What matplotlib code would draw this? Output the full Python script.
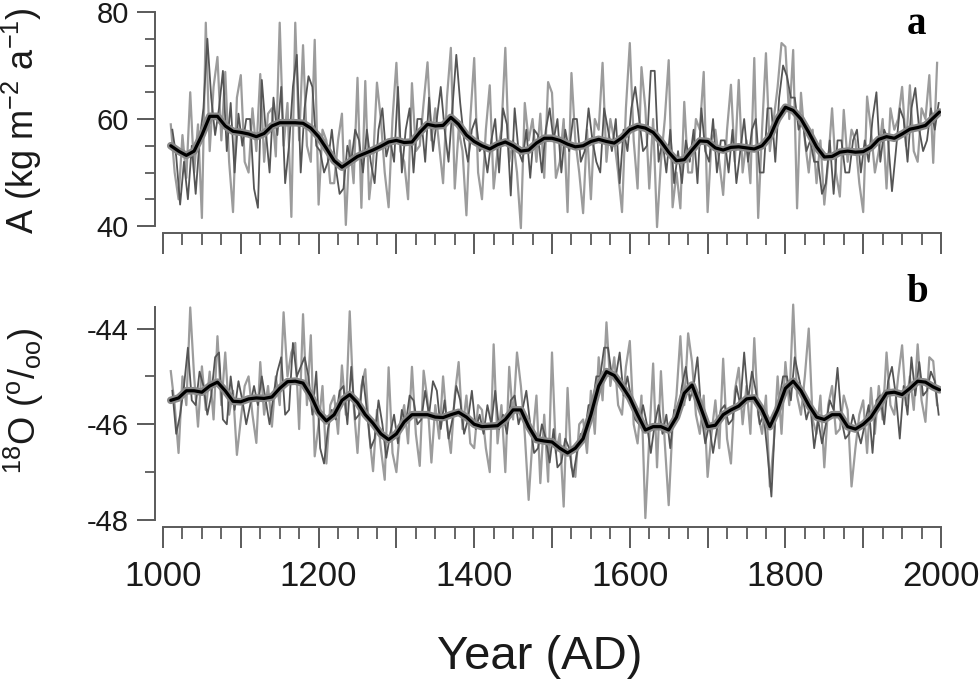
import numpy as np
import matplotlib
matplotlib.use("Agg")
import matplotlib.pyplot as plt
from matplotlib.ticker import MultipleLocator, FuncFormatter

plt.rcParams["font.family"] = ["Liberation Sans", "DejaVu Sans"]
plt.rcParams["mathtext.fontset"] = "custom"
plt.rcParams["mathtext.rm"] = "Liberation Sans"
plt.rcParams["mathtext.default"] = "regular"
plt.rcParams["axes.unicode_minus"] = False

# --- data -----------------------------------------------------------------
# smoothed curves, every 10 years (last point 1998)
smooth_years = [1010 + 10 * i for i in range(99)] + [1998]

smooth_a = [
    55.0, 54.0, 53.2, 54.0, 57.0, 60.5, 60.5, 58.7, 57.7, 57.5,
    57.2, 56.7, 57.3, 58.7, 59.3, 59.3, 59.3, 59.2, 58.3, 56.7,
    54.5, 52.2, 51.0, 52.0, 53.0, 53.6, 54.2, 54.9, 55.7, 56.0,
    55.6, 55.7, 57.5, 59.0, 58.7, 58.8, 60.3, 59.0, 57.0, 55.8,
    55.0, 54.4, 55.2, 55.7, 55.0, 54.0, 54.2, 55.5, 56.4, 56.4,
    56.0, 55.3, 54.8, 55.0, 55.8, 56.2, 55.8, 55.5, 56.5, 58.0,
    58.6, 58.3, 57.5, 55.8, 53.8, 52.2, 52.4, 54.2, 55.9, 55.8,
    54.6, 54.2, 54.7, 54.8, 54.6, 54.4, 55.0, 56.7, 60.0, 62.2,
    61.6, 60.0, 57.5, 54.8, 52.9, 53.0, 53.8, 54.0, 53.8, 53.9,
    54.7, 56.2, 56.7, 56.4, 57.2, 58.1, 58.4, 58.8, 60.2, 61.3,
]

smooth_b = [
    -45.50, -45.45, -45.30, -45.30, -45.33, -45.20, -45.12, -45.30, -45.52, -45.53,
    -45.47, -45.45, -45.46, -45.43, -45.25, -45.11, -45.10, -45.14, -45.40, -45.75,
    -45.93, -45.80, -45.50, -45.38, -45.55, -45.80, -45.98, -46.20, -46.32, -46.20,
    -45.95, -45.80, -45.80, -45.80, -45.85, -45.86, -45.80, -45.75, -45.85, -46.00,
    -46.05, -46.04, -46.03, -45.90, -45.70, -45.70, -46.05, -46.32, -46.35, -46.37,
    -46.50, -46.60, -46.50, -46.30, -45.80, -45.20, -44.90, -44.98, -45.20, -45.45,
    -45.80, -46.12, -46.05, -46.05, -46.12, -45.85, -45.35, -45.18, -45.60, -46.05,
    -46.02, -45.80, -45.70, -45.62, -45.47, -45.45, -45.70, -46.05, -45.70, -45.25,
    -45.10, -45.30, -45.60, -45.85, -45.90, -45.80, -45.80, -46.05, -46.10, -46.00,
    -45.85, -45.60, -45.35, -45.33, -45.38, -45.25, -45.10, -45.12, -45.22, -45.28,
]

# annual records (read at ~5 year spacing): light grey and dark grey traces
light_years = [1010 + 5 * i for i in range(198)]
dark_years = [1012 + 5 * i for i in range(198)]

a_light = [
    59, 50, 45, 57, 49, 65, 50, 59, 41.5, 78, 54, 66, 71.6, 56, 68.8, 52, 42.6, 64,
    68.2, 52, 50, 62, 54, 68.4, 52, 61, 62, 53, 78, 55, 63, 41.7, 78, 56, 73.8, 55,
    52, 74.8, 44, 58, 56, 48, 48, 56, 61, 40.2, 56, 48, 67.7, 43.4, 67.1, 45, 52, 66.8,
    60, 50, 43.5, 60, 70.5, 54, 52, 45, 66.7, 54, 55, 63, 70.6, 56, 62, 55, 48, 64,
    73.3, 47, 58, 54, 42, 60, 71.4, 50, 45, 58, 66.3, 47, 54, 58, 73.3, 52, 56, 50,
    39.6, 63, 56, 60, 52, 61, 49, 66.9, 64.9, 49, 52, 60, 42.6, 68.6, 56, 50, 42.4, 58,
    45, 60, 58, 70.5, 52, 60, 56, 50, 42.6, 62, 74.2, 56, 47, 69.7, 62, 47, 60, 39.8,
    52, 60, 71, 43.5, 50, 43.3, 63.2, 50, 50, 60, 58, 68.8, 42.6, 56, 58, 52, 45.8, 58,
    66.4, 52, 67.3, 50, 56, 48, 71.4, 41.5, 58, 72.3, 54, 60, 66, 74.2, 73.5, 60, 72.9, 43.3,
    64.9, 56, 50, 58, 48, 56, 44, 52, 62, 50, 45.5, 61.7, 52, 58, 56, 48, 42.6, 64.2,
    58, 50, 54, 60, 47, 62, 58, 60, 66, 55, 66.3, 54, 52, 62, 60, 68.2, 51.8, 70.5,
]

a_dark = [
    58, 53, 44, 52, 45, 55, 46, 56, 62, 75, 64, 57, 62, 69, 54, 63, 50, 61,
    55, 60, 60, 47, 43.4, 67.3, 58, 50, 64, 57, 66, 48, 55, 66, 72, 50, 62, 68,
    66, 55, 54, 50, 52, 58, 51, 46, 47, 55, 52, 58, 56, 50, 58, 52, 48, 58,
    62, 53, 56, 52, 66, 50, 58, 62, 50, 60, 60, 52, 64, 54, 60, 66, 58, 52,
    62, 72, 63, 56, 52, 58, 60, 54, 55, 50, 56, 60, 50, 62, 59, 45.7, 62, 54,
    52, 58, 49, 58, 57, 50, 58, 62, 56, 60, 50, 58, 54, 60, 60, 52, 54, 62,
    56, 52, 50, 62, 58, 54, 60, 48, 58, 54, 62, 66, 60, 54, 55, 69, 69, 52,
    56, 50, 58, 48, 54, 48, 56, 52, 58, 48, 62, 54, 52, 60, 50, 56, 56, 50,
    58, 48, 54, 60, 52, 58, 60, 50, 50, 62, 62, 52, 64, 70, 68, 64, 64, 58,
    60, 54, 56, 52, 52, 46, 48, 56, 46, 56, 56, 50, 50, 56, 58, 50, 56, 52,
    60, 65, 52, 58, 56, 46.5, 54, 62, 60, 52, 62, 65.8, 58, 54, 56, 62, 58, 63,
]

b_light = [
    -44.89, -45.6, -46.6, -45.0, -45.6, -43.56, -45.0, -46.05, -44.79, -45.7,
    -44.9, -45.9, -44.16, -45.6, -44.5, -45.8, -45.3, -46.64, -45.9, -45.2,
    -45.0, -45.8, -46.39, -44.7, -45.8, -45.2, -46.05, -45.0, -45.6, -43.66,
    -45.0, -44.5, -44.3, -46.1, -43.7, -45.6, -44.14, -46.67, -46.0, -45.2,
    -46.82, -45.6, -45.4, -46.2, -44.77, -45.8, -43.64, -45.6, -46.6, -45.2,
    -44.85, -46.2, -46.98, -45.7, -46.5, -47.16, -44.81, -46.6, -47.0, -46.0,
    -45.6, -46.4, -44.8, -46.2, -46.87, -44.88, -45.5, -46.8, -45.6, -46.3,
    -45.0, -46.0, -46.6, -45.4, -44.7, -46.1, -45.4, -46.4, -46.5, -45.6,
    -45.7, -46.5, -47.0, -44.33, -46.4, -45.6, -47.0, -44.8, -45.9, -44.5,
    -45.2, -46.2, -47.58, -46.3, -45.4, -47.23, -45.8, -47.2, -44.5, -46.6,
    -46.2, -47.72, -45.24, -46.9, -47.1, -46.0, -45.9, -46.6, -45.3, -46.2,
    -44.6, -45.5, -43.87, -45.2, -44.6, -45.6, -45.8, -44.8, -44.26, -46.0,
    -46.4, -45.4, -47.96, -46.3, -44.73, -46.9, -44.89, -46.4, -47.69, -46.0,
    -45.4, -44.16, -45.6, -44.1, -44.7, -45.8, -46.2, -45.4, -47.1, -46.2,
    -45.5, -46.5, -44.63, -46.3, -46.82, -45.3, -44.82, -46.0, -45.2, -46.2,
    -44.2, -45.8, -46.2, -45.4, -47.3, -46.4, -45.0, -46.2, -44.7, -45.6,
    -43.5, -45.4, -45.8, -45.0, -44.0, -45.9, -46.2, -45.4, -46.9, -45.6,
    -45.2, -46.2, -46.1, -45.4, -45.7, -47.3, -46.5, -45.8, -45.5, -46.6,
    -45.24, -46.2, -45.2, -45.9, -44.5, -45.6, -45.8, -45.0, -44.35, -45.6,
    -45.0, -45.7, -44.33, -45.5, -45.95, -44.6, -44.68, -45.6,
]

b_dark = [
    -45.3, -46.2, -45.8, -45.2, -44.4, -45.5, -45.6, -44.9, -45.2, -45.8,
    -45.4, -44.6, -44.5, -45.9, -46.0, -45.0, -45.7, -45.1, -45.5, -46.0,
    -45.6, -45.2, -45.6, -45.0, -45.5, -46.0, -45.4, -44.9, -44.6, -45.8,
    -45.7, -44.3, -45.0, -44.8, -44.6, -45.0, -45.8, -44.9, -46.5, -46.82,
    -46.1, -45.7, -45.9, -45.3, -45.2, -46.0, -44.8, -45.9, -45.8, -45.0,
    -45.7, -46.5, -46.3, -45.5, -46.0, -46.7, -46.2, -45.8, -46.4, -45.7,
    -46.0, -45.4, -45.5, -46.0, -45.9, -45.3, -45.8, -45.1, -45.3, -46.1,
    -45.5, -46.3, -45.9, -45.2, -45.5, -46.2, -45.9, -45.3, -46.1, -45.8,
    -46.2, -45.6, -46.0, -45.3, -46.1, -45.8, -46.2, -45.5, -45.4, -46.0,
    -45.7, -45.3, -46.0, -46.6, -46.5, -46.0, -46.3, -46.8, -46.1, -46.9,
    -46.8, -46.3, -46.5, -47.1, -46.6, -46.2, -46.2, -45.6, -45.6, -45.0,
    -45.0, -44.4, -44.4, -45.0, -45.0, -44.5, -45.4, -45.0, -45.5, -45.9,
    -46.0, -45.6, -46.0, -46.6, -46.0, -45.6, -46.2, -45.8, -46.5, -45.7,
    -45.8, -45.2, -44.8, -45.5, -45.2, -44.6, -45.8, -46.4, -46.0, -46.6,
    -46.1, -45.7, -45.6, -46.0, -45.9, -45.2, -45.6, -44.5, -45.5, -44.9,
    -45.3, -46.0, -45.8, -46.6, -47.51, -45.8, -45.5, -45.0, -45.0, -45.5,
    -44.6, -45.0, -45.4, -45.9, -45.6, -46.5, -45.9, -46.4, -46.0, -45.5,
    -45.7, -44.82, -45.9, -46.3, -46.2, -45.8, -46.1, -46.4, -46.0, -45.6,
    -46.6, -45.5, -45.4, -46.0, -45.1, -44.8, -45.4, -46.3, -45.2, -45.8,
    -44.6, -45.4, -44.7, -45.4, -45.3, -44.9, -45.1, -45.8,
]

LIGHT = "#9c9c9c"
DARK = "#555555"
BAND = "#8a8a8a"
AXIS = "#5a5a5a"
PX = 0.72  # points per pixel at dpi 100


def year_label(value, _pos):
    year = int(round(value))
    return str(year) if year % 200 == 0 else ""


def style_axis(ax, show_xlabels):
    for side in ("top", "right"):
        ax.spines[side].set_visible(False)
    ax.spines["left"].set_position(("outward", 8 * PX))
    ax.spines["bottom"].set_position(("outward", 7 * PX))
    for side in ("left", "bottom"):
        ax.spines[side].set_color(AXIS)
        ax.spines[side].set_linewidth(1.4)

    ax.set_xlim(1000, 2000)
    ax.xaxis.set_major_locator(MultipleLocator(100))
    ax.xaxis.set_minor_locator(MultipleLocator(25))
    ax.xaxis.set_major_formatter(FuncFormatter(year_label))
    ax.tick_params(axis="x", which="major", length=21 * PX, width=1.4, color=AXIS,
                   labelsize=25, pad=9, labelbottom=show_xlabels, labelcolor="#1a1a1a")
    ax.tick_params(axis="x", which="minor", length=12 * PX, width=1.3, color=AXIS)
    ax.tick_params(axis="y", which="major", length=18 * PX, width=1.4, color=AXIS,
                   labelsize=21, pad=6, labelcolor="#1a1a1a")
    ax.tick_params(axis="y", which="minor", length=10 * PX, width=1.3, color=AXIS)


def draw_panel(ax, light, dark, smooth):
    ax.plot(light_years, light, color=LIGHT, lw=1.6, clip_on=False, zorder=2)
    ax.plot(dark_years, dark, color=DARK, lw=1.3, clip_on=False, zorder=3)
    ax.plot(smooth_years, smooth, color=BAND, lw=5.5, solid_capstyle="round",
            solid_joinstyle="round", zorder=4)
    ax.plot(smooth_years, smooth, color="black", lw=2.3, solid_capstyle="round",
            solid_joinstyle="round", zorder=5)


def main():
    fig = plt.figure(figsize=(9.8, 6.84), dpi=100)

    ax_a = fig.add_axes([163 / 980, 1 - 226 / 684, 778 / 980, 214 / 684])
    draw_panel(ax_a, a_light, a_dark, smooth_a)
    ax_a.set_ylim(40, 80)
    ax_a.yaxis.set_major_locator(MultipleLocator(20))
    ax_a.yaxis.set_minor_locator(MultipleLocator(5))
    style_axis(ax_a, show_xlabels=False)
    ax_a.text(1968, 77.6, "a", fontsize=28, fontweight="bold", family="Liberation Serif",
              ha="center", va="center")

    ax_b = fig.add_axes([163 / 980, 1 - 520 / 684, 778 / 980, 213 / 684])
    draw_panel(ax_b, b_light, b_dark, smooth_b)
    ax_b.set_ylim(-48, -43.55)
    ax_b.yaxis.set_major_locator(MultipleLocator(2))
    ax_b.yaxis.set_minor_locator(MultipleLocator(1))
    style_axis(ax_b, show_xlabels=True)
    ax_b.text(1970, -43.25, "b", fontsize=28, fontweight="bold", family="Liberation Serif",
              ha="center", va="center")

    fig.text(22 / 980, 1 - 234 / 684, r"A (kg m$^{-2}$ a$^{-1}$)", rotation=90,
             fontsize=26, ha="center", va="bottom", color="#1a1a1a")
    fig.text(24 / 980, 1 - 401 / 684, r"$^{18}$O ($^{o}$/$_{oo}$)", rotation=90,
             fontsize=26, ha="center", va="center", color="#1a1a1a")
    fig.text(540 / 980, 1 - 657 / 684, "Year (AD)", fontsize=34,
             ha="center", va="center", color="#1a1a1a")

    fig.savefig("out.png", dpi=100)
    plt.close(fig)


if __name__ == "__main__":
    main()
